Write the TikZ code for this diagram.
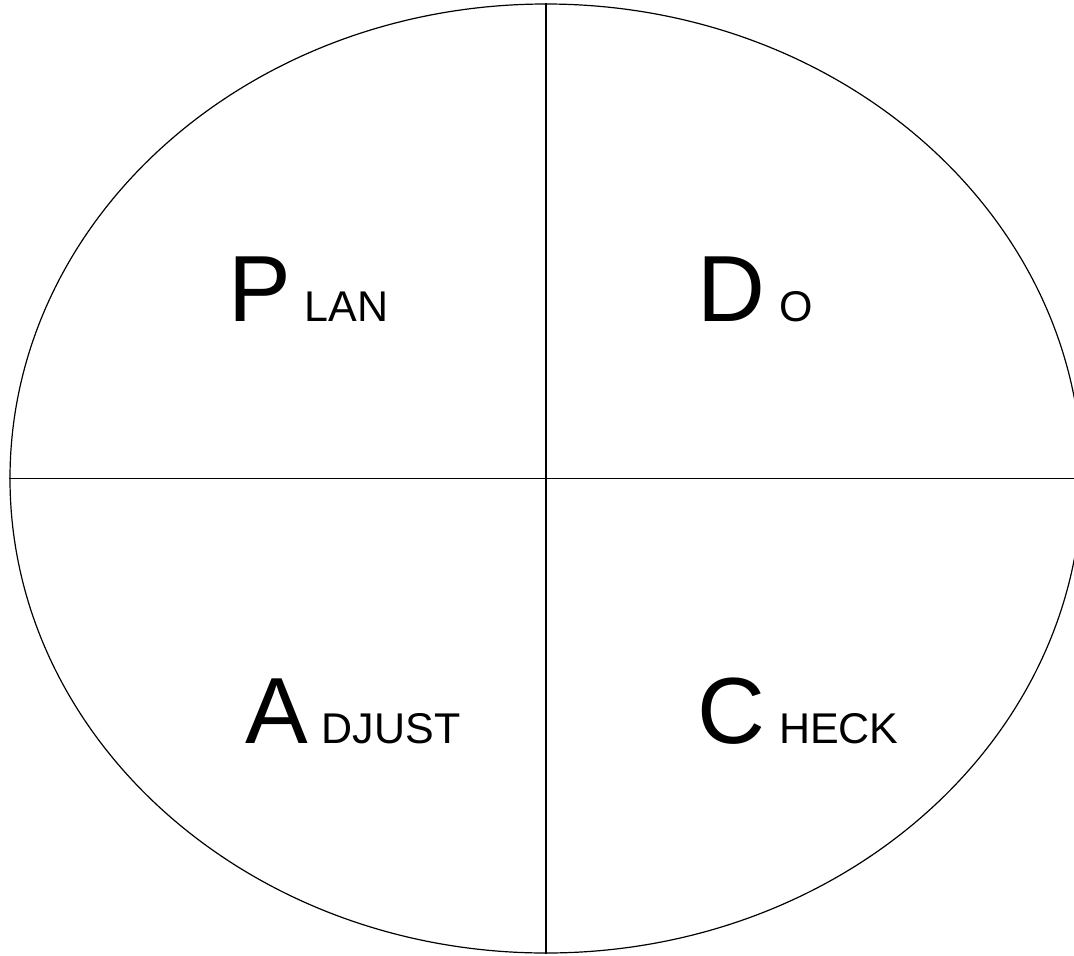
\documentclass[tikz,border=0pt]{standalone}
\usepackage{fontspec}
\setmainfont{Liberation Sans}
\usetikzlibrary{shapes.geometric}

\newcommand{\pdcaword}[2]{{\fontsize{94}{94}\selectfont #1}\hspace{14pt}{\fontsize{43}{43}\selectfont #2}}

\begin{document}
\begin{tikzpicture}[
    x=1pt, y=-1pt,
    cycle/.style={
        ellipse, draw, line width=1.2pt,
        minimum width=1072pt, minimum height=949pt,
        inner sep=0pt,
    },
    divider/.style={line width=1.2pt},
    phaselabel/.style={anchor=base west, inner sep=0pt},
]
\useasboundingbox (0,0) rectangle (1074,956);
\clip (0,0) rectangle (1074,956);

% outer ellipse
\node[cycle] (pdca) at (546,478.5) {};

% quadrant dividers
\draw[divider] (pdca.north) -- (pdca.south);
\draw[divider] (pdca.west) -- (pdca.east);

% quadrant labels
\node[phaselabel] (plan) at (228,321) {\pdcaword{P}{LAN}};
\node[phaselabel] (do) at (697.5,321) {\pdcaword{D}{O}};
\node[phaselabel] (adjust) at (245,743) {\pdcaword{A}{DJUST}};
\node[phaselabel] (check) at (697,743) {\pdcaword{C}{HECK}};

\end{tikzpicture}
\end{document}
